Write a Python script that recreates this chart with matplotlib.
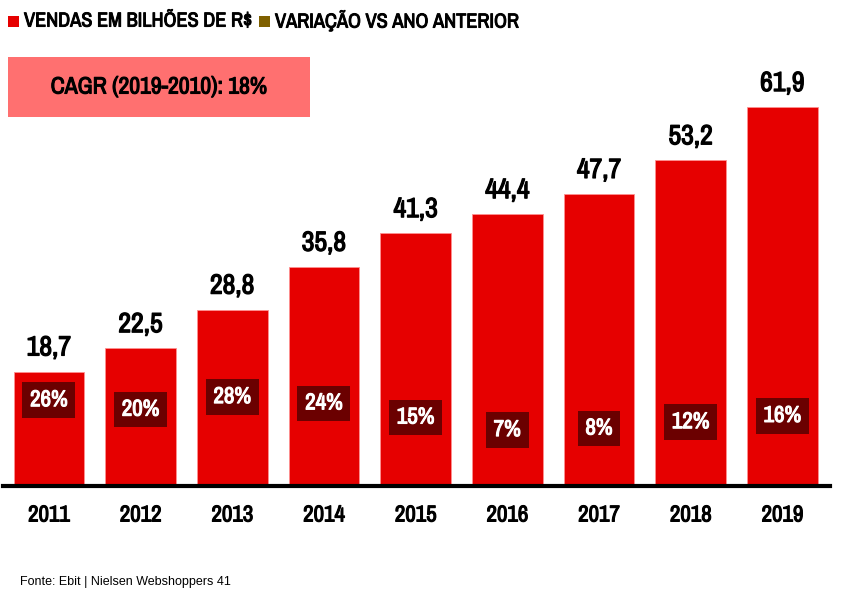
import matplotlib.pyplot as plt
import matplotlib.patheffects as pe
from matplotlib.patches import Rectangle

# Dados do gráfico
anos = ["2011", "2012", "2013", "2014", "2015", "2016", "2017", "2018", "2019"]
vendas = [18.7, 22.5, 28.8, 35.8, 41.3, 44.4, 47.7, 53.2, 61.9]
variacao = [26, 20, 28, 24, 15, 7, 8, 12, 16]

cor_vendas = "#E60000"
cor_variacao = "#7F6000"
cor_caixa = "#6B0000"

# Archivo Narrow só tem o peso normal aqui: negrito simulado com contorno
def negrito(cor="black", lw=0.7):
    return dict(family=["Archivo Narrow", "DejaVu Sans"], color=cor,
                path_effects=[pe.withStroke(linewidth=lw, foreground=cor)])

W, H = 859, 598
fig = plt.figure(figsize=(W / 100, H / 100), dpi=100)

# Eixo principal: base em y=486px, 6.12 px por bilhão
base_px = 486
ax = fig.add_axes([3 / W, (H - base_px) / H, 827 / W, base_px / H])
ax.set_xlim(-0.50, 8.52)
ax.set_ylim(0, base_px / 6.12)

x = list(range(len(anos)))
ax.bar(x, vendas, width=0.77, color=cor_vendas, edgecolor="#FF9090", linewidth=0.6, zorder=2)

for xi, v in zip(x, vendas):
    ax.annotate(f"{v:.1f}".replace(".", ","), (xi, v), xytext=(0, 8), textcoords="offset points",
                ha="center", va="bottom", fontsize=20, **negrito(lw=0.9))

for side in ["top", "right", "left"]:
    ax.spines[side].set_visible(False)
ax.spines["bottom"].set_linewidth(3)
ax.spines["bottom"].set_zorder(3)
ax.set_yticks([])
ax.set_xticks(x)
ax.set_xticklabels(anos)
for lbl in ax.get_xticklabels():
    lbl.set_fontfamily(["Archivo Narrow", "DejaVu Sans"])
    lbl.set_fontsize(16.5)
    lbl.set_path_effects([pe.withStroke(linewidth=0.8, foreground="black")])
ax.tick_params(axis="x", length=0, pad=14)

# Eixo secundário para a variação (marcadores invisíveis)
ax2 = ax.twinx()
ax2.set_ylim(-28.6, 280.7)
ax2.axis("off")
ax2.plot(x, variacao, linestyle="none")
for xi, p in zip(x, variacao):
    ax2.text(xi, p, f"{p}%", ha="center", va="center", fontsize=16.5, zorder=4,
             bbox=dict(boxstyle="square,pad=0.34", facecolor=cor_caixa, edgecolor="none"),
             **negrito("white", 0.8))

# Legenda
fig.patches.append(Rectangle((8 / W, 1 - 27 / H), 11 / W, 11 / H, transform=fig.transFigure,
                             facecolor=cor_vendas, edgecolor="none"))
fig.text(24 / W, 1 - 21 / H, "VENDAS EM BILHÕES DE R$", fontsize=14.6,
         va="center", ha="left", **negrito(lw=0.7))
fig.patches.append(Rectangle((259 / W, 1 - 27 / H), 11 / W, 11 / H, transform=fig.transFigure,
                             facecolor=cor_variacao, edgecolor="none"))
fig.text(275 / W, 1 - 21 / H, "VARIAÇÃO VS ANO ANTERIOR", fontsize=14.6,
         va="center", ha="left", **negrito(lw=0.7))

# Caixa CAGR
fig.patches.append(Rectangle((8 / W, 1 - 117 / H), 302 / W, 60 / H, transform=fig.transFigure,
                             facecolor="#FF7070", edgecolor="none"))
fig.text(159 / W, 1 - 87 / H, "CAGR (2019-2010): 18%", fontsize=17,
         va="center", ha="center", **negrito(lw=0.8))

fig.text(20 / W, 1 - 582 / H, "Fonte: Ebit | Nielsen Webshoppers 41", fontsize=9,
         family=["Liberation Sans", "DejaVu Sans"], va="center", ha="left")

fig.savefig("out.png", dpi=100)
